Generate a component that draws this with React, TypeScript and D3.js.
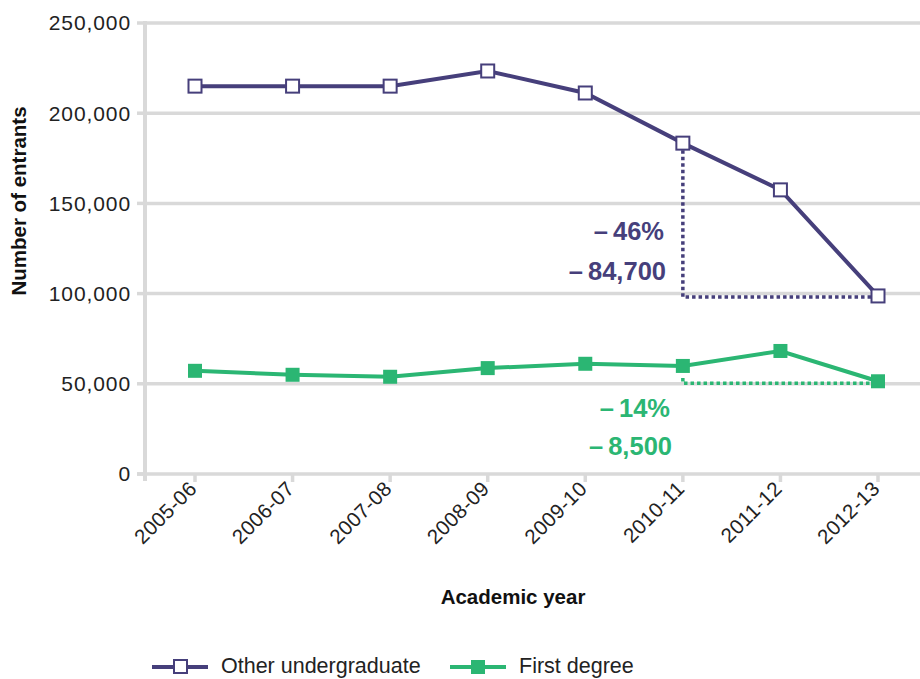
import React from "react";
import * as d3 from "d3";

const years = ["2005-06", "2006-07", "2007-08", "2008-09", "2009-10", "2010-11", "2011-12", "2012-13"];
const otherUndergrad = [215000, 215000, 215000, 223400, 211200, 183400, 157500, 98700];
const firstDegree = [57200, 55000, 53900, 58700, 61100, 59900, 68200, 51400];
const yTicks = [0, 50000, 100000, 150000, 200000, 250000];

const PURPLE = "#463f7b";
const GREEN = "#2bb673";
const GRID = "#d9d9d9";
const FONT = "'Liberation Sans', Arial, Helvetica, sans-serif";

export default function App() {
  const W = 920, H = 679;
  const x = d3.scalePoint<string>().domain(years).range([195, 878]);
  const y = d3.scaleLinear().domain([0, 250000]).range([474, 23]);
  const line = d3.line<number>().x((_, i) => x(years[i])!).y((d) => y(d));
  const fmt = d3.format(",");
  const iA = 5, iB = 7;

  return (
    <svg width={W} height={H} style={{ position: "absolute", left: 0, top: 0 }} fontFamily={FONT}>
      <rect width={W} height={H} fill="#fff" />
      {yTicks.map((t) => (
        <g key={t}>
          {t > 0 && <line x1={145} x2={920} y1={y(t)} y2={y(t)} stroke={GRID} strokeWidth={3.5} />}
          <line x1={137} x2={145} y1={y(t)} y2={y(t)} stroke={GRID} strokeWidth={3.5} />
          <text x={131} y={y(t)} dy="0.35em" textAnchor="end" fontSize={21} letterSpacing={0.9} fill="#222">{fmt(t)}</text>
        </g>
      ))}
      <line x1={145} x2={145} y1={21} y2={481} stroke={GRID} strokeWidth={4} />
      <line x1={137} x2={920} y1={y(0)} y2={y(0)} stroke={GRID} strokeWidth={3.5} />
      {years.map((yr) => (
        <g key={yr}>
          <line x1={x(yr)} x2={x(yr)} y1={y(0)} y2={482} stroke={GRID} strokeWidth={3.5} />
          <text transform={`translate(${x(yr)! + 3},${490}) rotate(-45)`} textAnchor="end" fontSize={20.5} letterSpacing={0.4} fill="#222">{yr}</text>
        </g>
      ))}
      <text transform={`translate(26,${201}) rotate(-90)`} textAnchor="middle" fontSize={20.5} fontWeight="bold" fill="#111">Number of entrants</text>
      <text x={513} y={604} textAnchor="middle" fontSize={20.5} fontWeight="bold" fill="#111">Academic year</text>

      {/* dotted annotations */}
      <path d={`M${x(years[iA])},${y(otherUndergrad[iA]) + 7}V${y(otherUndergrad[iB]) + 1}H${x(years[iB])! - 6}`} fill="none" stroke={PURPLE} strokeWidth={3.5} strokeDasharray="3.5 3" />
      <path d={`M${x(years[iA])},${y(firstDegree[iA]) + 12}V${y(firstDegree[iB]) + 2}H${x(years[iB])! - 6}`} fill="none" stroke={GREEN} strokeWidth={3.5} strokeDasharray="3.5 3" />
      <text x={664} y={240} textAnchor="end" fontSize={25.5} fontWeight="bold" fill={PURPLE}>–{"\u2009"}46%</text>
      <text x={666} y={280} textAnchor="end" fontSize={25.5} fontWeight="bold" fill={PURPLE}>–{"\u2009"}84,700</text>
      <text x={670} y={417} textAnchor="end" fontSize={25.5} fontWeight="bold" fill={GREEN}>–{"\u2009"}14%</text>
      <text x={672} y={455} textAnchor="end" fontSize={25.5} fontWeight="bold" fill={GREEN}>–{"\u2009"}8,500</text>

      <path d={line(otherUndergrad)!} fill="none" stroke={PURPLE} strokeWidth={4} />
      {otherUndergrad.map((v, i) => (
        <rect key={i} x={x(years[i])! - 6.5} y={y(v) - 6.5} width={13} height={13} fill="#fff" stroke={PURPLE} strokeWidth={2} />
      ))}
      <path d={line(firstDegree)!} fill="none" stroke={GREEN} strokeWidth={4} />
      {firstDegree.map((v, i) => (
        <rect key={i} x={x(years[i])! - 7} y={y(v) - 7} width={14} height={14} fill={GREEN} />
      ))}

      {/* legend */}
      <g>
        <line x1={152} x2={208} y1={667} y2={667} stroke={PURPLE} strokeWidth={4} />
        <rect x={174} y={660} width={13} height={13} fill="#fff" stroke={PURPLE} strokeWidth={2} />
        <text x={221} y={673} fontSize={21.5} fill="#222">Other undergraduate</text>
        <line x1={450} x2={506} y1={667} y2={667} stroke={GREEN} strokeWidth={4} />
        <rect x={471} y={660} width={14} height={14} fill={GREEN} />
        <text x={519} y={673} fontSize={21.5} fill="#222">First degree</text>
      </g>
    </svg>
  );
}
